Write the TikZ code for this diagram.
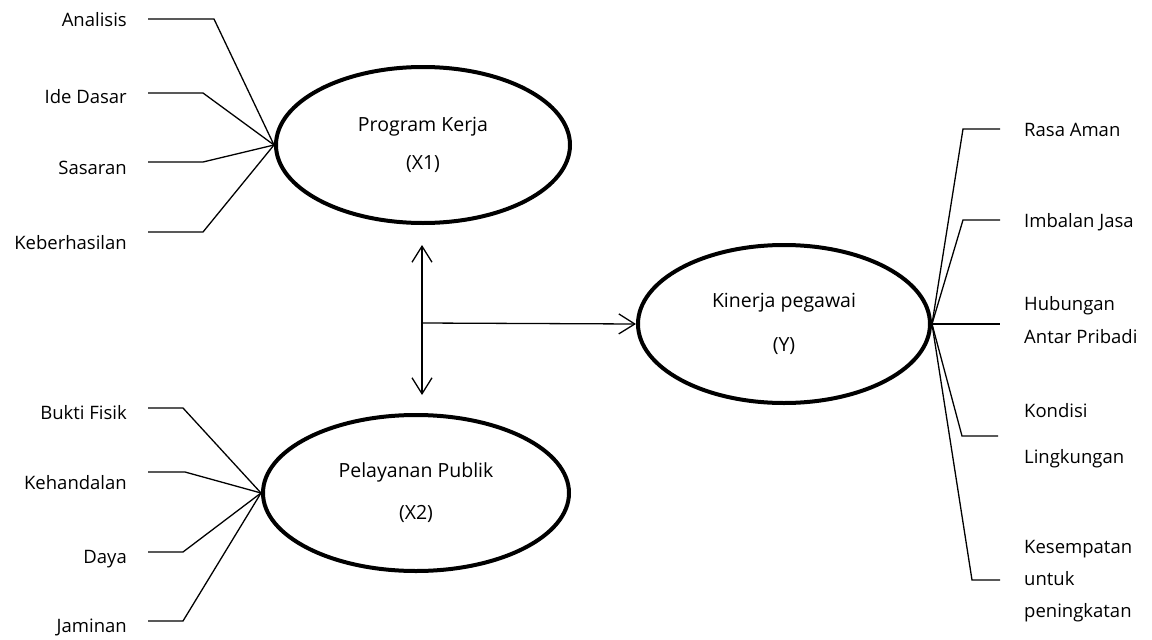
\documentclass[tikz,border=0pt]{standalone}
\usepackage{fontspec}
\setmainfont{Open Sans}
\usetikzlibrary{shapes.geometric,arrows.meta}
\begin{document}
\begin{tikzpicture}[x=1pt,y=-1pt,
  lat/.style={draw, ellipse, line width=4pt, inner sep=0pt, align=center,
    font=\fontsize{19.5}{38}\selectfont},
  lab/.style={inner sep=0pt, font=\fontsize{18.5}{33}\selectfont},
  conn/.style={line width=1.3pt},
  arr/.style={line width=1.3pt, -{Straight Barb[length=16pt,width=20pt,line width=1.3pt]}},
  darr/.style={line width=1.3pt, {Straight Barb[length=16pt,width=20pt,line width=1.3pt]}-{Straight Barb[length=16pt,width=20pt,line width=1.3pt]}}]
\useasboundingbox (0,0) rectangle (1152,640);

% latent variables
\node[lat, minimum width=294pt, minimum height=156pt] (pk) at (423,145) {Program Kerja\\(X1)};
\node[lat, minimum width=306pt, minimum height=156pt] (pp) at (416,493) {Pelayanan Publik\\[4pt](X2)};
\node[lat, minimum width=292pt, minimum height=158pt] (ky) at (784,324) {Kinerja pegawai\\[6pt](Y)};

% left labels top
\node[lab, anchor=east] (a1) at (127,20) {Analisis};
\node[lab, anchor=east] (a2) at (127,97) {Ide Dasar};
\node[lab, anchor=east] (a3) at (127,168) {Sasaran};
\node[lab, anchor=east] (a4) at (127,243) {Keberhasilan};
\coordinate (s1) at (148,19);  \coordinate (e1) at (214,19);
\coordinate (s2) at (148,93);  \coordinate (e2) at (203,93);
\coordinate (s3) at (148,162); \coordinate (e3) at (203,162);
\coordinate (s4) at (148,232); \coordinate (e4) at (203,232);
\foreach \i in {1,...,4} \draw[conn] (s\i) -- (e\i) -- (pk.west);

% left labels bottom
\node[lab, anchor=east] (b1) at (127,413) {Bukti Fisik};
\node[lab, anchor=east] (b2) at (127,483) {Kehandalan};
\node[lab, anchor=east] (b3) at (127,559) {Daya};
\node[lab, anchor=east] (b4) at (127,627) {Jaminan};
\coordinate (t1) at (148,408); \coordinate (f1) at (183,408);
\coordinate (t2) at (148,472); \coordinate (f2) at (185,472);
\coordinate (t3) at (148,552); \coordinate (f3) at (183,552);
\coordinate (t4) at (148,621); \coordinate (f4) at (183,621);
\foreach \i in {1,...,4} \draw[conn] (t\i) -- (f\i) -- (pp.west);

% right labels
\node[lab, anchor=west] (c1) at (1024,130) {Rasa Aman};
\node[lab, anchor=west] (c2) at (1024,222) {Imbalan Jasa};
\node[lab, anchor=west, align=left] (c3) at (1024,320) {Hubungan\\[0pt]Antar Pribadi};
\node[lab, anchor=west, align=left] (c4) at (1024,436) {Kondisi\\[13pt]Lingkungan};
\node[lab, anchor=west, align=left] (c5) at (1024,581) {Kesempatan\\[-1pt]untuk\\[-1pt]peningkatan};
\coordinate (g1) at (963,129); \coordinate (h1) at (1000,129);
\coordinate (g2) at (963,220); \coordinate (h2) at (1000,220);
\coordinate (h3) at (1000,322);
\coordinate (g4) at (962,436); \coordinate (h4) at (998,436);
\coordinate (g5) at (972,580); \coordinate (h5) at (1000,580);
\draw[conn] (ky.east) -- (g1) -- (h1);
\draw[conn] (ky.east) -- (g2) -- (h2);
\draw[conn] (ky.east) -- (ky.east -| h3);
\draw[conn] (ky.east) -- (g4) -- (h4);
\draw[conn] (ky.east) -- (g5) -- (h5);

% structural arrows
\coordinate (vtop) at (422,245);
\coordinate (vbot) at (422,395);
\coordinate (vmid) at (422,323);
\draw[darr] (vtop) -- (vbot);
\draw[arr] (vmid) -- (ky.west);
\end{tikzpicture}
\end{document}
